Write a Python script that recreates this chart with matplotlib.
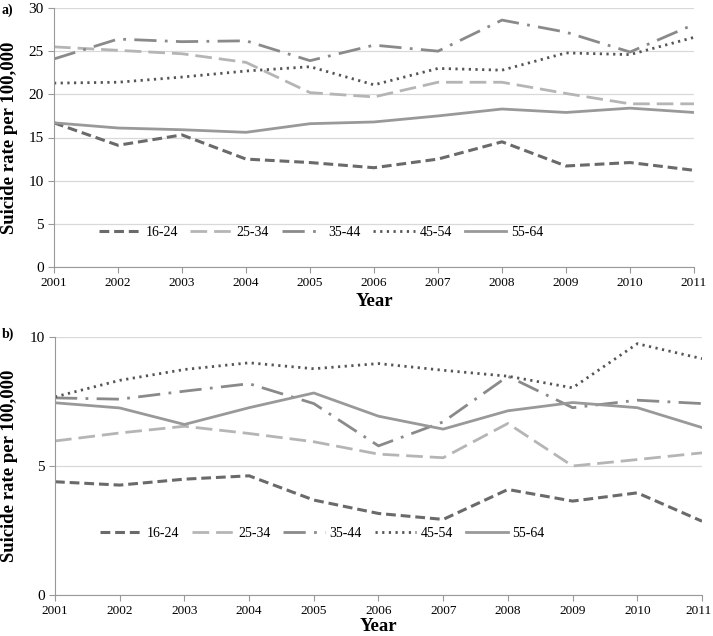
import numpy as np
import matplotlib
matplotlib.use("Agg")
from matplotlib import pyplot as plt
from matplotlib import transforms

plt.rcParams['font.family'] = ['Liberation Serif', 'DejaVu Serif']

years = [2001, 2002, 2003, 2004, 2005, 2006, 2007, 2008, 2009, 2010, 2011]
groups = ['16-24', '25-34', '35-44', '45-54', '55-64']

# panel a
a_16_24 = [16.7, 14.1, 15.3, 12.5, 12.1, 11.5, 12.5, 14.5, 11.7, 12.1, 11.2]
a_25_34 = [25.5, 25.1, 24.7, 23.7, 20.2, 19.7, 21.4, 21.4, 20.1, 18.9, 18.9]
a_35_44 = [24.1, 26.4, 26.1, 26.2, 23.9, 25.7, 25.0, 28.6, 27.2, 24.9, 28.1]
a_45_54 = [21.3, 21.4, 22.0, 22.7, 23.2, 21.1, 23.0, 22.8, 24.8, 24.6, 26.6]
a_55_64 = [16.7, 16.1, 15.9, 15.6, 16.6, 16.8, 17.5, 18.3, 17.9, 18.4, 17.9]

# panel b
b_16_24 = [4.39, 4.26, 4.49, 4.62, 3.68, 3.16, 2.93, 4.09, 3.64, 3.96, 2.86]
b_25_34 = [5.97, 6.28, 6.54, 6.26, 5.94, 5.46, 5.32, 6.65, 5.00, 5.25, 5.51]
b_35_44 = [7.64, 7.59, 7.90, 8.19, 7.42, 5.78, 6.71, 8.48, 7.26, 7.55, 7.42]
b_45_54 = [7.68, 8.32, 8.74, 9.00, 8.77, 8.97, 8.71, 8.48, 8.03, 9.74, 9.16]
b_55_64 = [7.45, 7.25, 6.61, 7.26, 7.83, 6.93, 6.43, 7.14, 7.46, 7.26, 6.49]

styles = [
    dict(color='#6a6a6a', ls=(0, (3.2, 1.6)), lw=2.2),
    dict(color='#b5b5b5', ls=(0, (6, 2.5)), lw=2.0),
    dict(color='#8a8a8a', ls=(0, (8, 3, 1, 3)), lw=2.0),
    dict(color='#555555', ls=(0, (0.8, 1.6)), lw=2.0),
    dict(color='#999999', ls='-', lw=2.0),
]

fig = plt.figure(figsize=(7.13, 6.36), dpi=100)
W, H = 713, 636

def setup(ax, ymax, step, leg_y, xlab_y):
    ax.set_xlim(2001, 2011)
    ax.set_ylim(0, ymax)
    ax.set_xticks(years)
    ax.set_yticks(np.arange(0, ymax + 0.1, step))
    ax.tick_params(axis='x', direction='out', length=4, color='#999999', labelsize=9.5)
    ax.tick_params(axis='y', length=4, color='#999999', labelsize=11, direction='out')
    ax.grid(axis='y', color='#d9d9d9', lw=0.9)
    ax.set_axisbelow(True)
    for s in ['top', 'right']:
        ax.spines[s].set_visible(False)
    for s in ['left', 'bottom']:
        ax.spines[s].set_color('#999999')
    ax.set_ylabel('Suicide rate per 100,000', fontsize=13.5, fontweight='bold')
    ax.set_xlabel('Year', fontsize=13.5, fontweight='bold')
    ax.xaxis.set_label_coords(0.5, xlab_y)
    ax.legend(loc='center left', bbox_to_anchor=(0.07, leg_y), ncol=5, frameon=False,
              fontsize=10, handlelength=3.0, columnspacing=0.9, handletextpad=0.35,
              borderaxespad=0, borderpad=0)

ax1 = fig.add_axes([54 / W, 1 - 267 / H, 640 / W, 259 / H])
for vals, g, st in zip([a_16_24, a_25_34, a_35_44, a_45_54, a_55_64], groups, styles):
    ax1.plot(years, vals, label=g, **st)
setup(ax1, 30, 5, 0.135, -0.1)
ax1.yaxis.set_label_coords(-0.056, 0.5)

ax2 = fig.add_axes([55 / W, 1 - 595 / H, 647 / W, 258 / H])
for vals, g, st in zip([b_16_24, b_25_34, b_35_44, b_45_54, b_55_64], groups, styles):
    ax2.plot(years, vals, label=g, **st)
setup(ax2, 10, 5, 0.24, -0.09)
ax2.yaxis.set_label_coords(-0.057, 0.5)

# nudge the last year label so it stays inside the image
last = ax2.get_xticklabels()[-1]
last.set_transform(last.get_transform() + transforms.ScaledTranslation(-3 / 100, 0, fig.dpi_scale_trans))

fig.text(2 / W, 1 - 10 / H, 'a)', fontsize=10, fontweight='bold', va='center')
fig.text(2 / W, 1 - 334 / H, 'b)', fontsize=10, fontweight='bold', va='center')

fig.savefig('out.png', dpi=100)
